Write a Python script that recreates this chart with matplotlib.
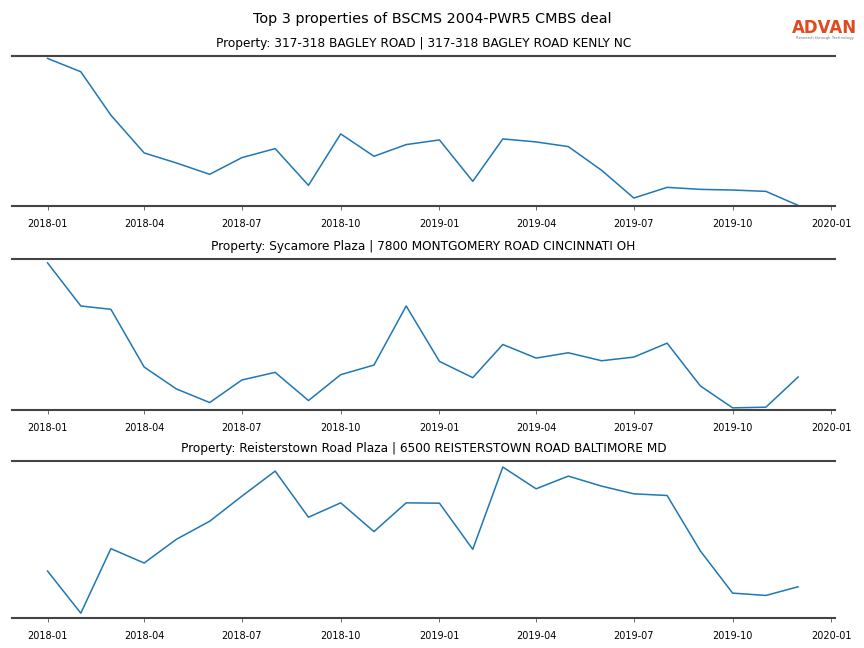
import numpy as np
import pandas as pd
import matplotlib
matplotlib.use('Agg')
import matplotlib.pyplot as plt
import matplotlib.dates as mdates

months = pd.date_range('2018-01-01', '2019-12-01', freq='MS')

titles = [
    'Property: 317-318 BAGLEY ROAD | 317-318 BAGLEY ROAD KENLY NC',
    'Property: Sycamore Plaza | 7800 MONTGOMERY ROAD CINCINNATI OH',
    'Property: Reisterstown Road Plaza | 6500 REISTERSTOWN ROAD BALTIMORE MD',
]

# monthly foot traffic (relative units)
bagley = [442, 402, 272, 159, 129, 95, 145, 172, 62, 216, 149, 184,
          198, 74, 201, 192, 178, 107, 24, 56, 50, 48, 44, 2]
sycamore = [444, 314, 304, 130, 64, 23, 91, 114, 29, 107, 136, 314,
            147, 98, 198, 157, 173, 149, 160, 202, 73, 7, 9, 100]
reisterstown = [141, 15, 208, 165, 236, 290, 365, 440, 302, 345, 259, 345,
                344, 206, 452, 387, 425, 395, 372, 367, 201, 75, 68, 94]
series = [bagley, sycamore, reisterstown]
ylims = [(0, 450), (0, 455), (0, 471)]

fig = plt.figure(figsize=(8.64, 6.48), dpi=100)
fig.suptitle('Top 3 properties of BSCMS 2004-PWR5 CMBS deal', y=0.982, fontsize=10.4)

positions = [
    [0.014, 0.682, 0.952, 0.232],
    [0.014, 0.367, 0.952, 0.233],
    [0.014, 0.046, 0.952, 0.243],
]

for pos, title, vals, yl in zip(positions, titles, series, ylims):
    ax = fig.add_axes(pos)
    ax.plot(months, vals, color='tab:blue', linewidth=1.1)
    ax.set_ylim(*yl)
    ax.set_xlim(pd.Timestamp('2017-11-29'), pd.Timestamp('2020-01-04'))
    ax.set_title(title, fontsize=8.75, pad=6.5)
    ax.xaxis.set_major_locator(mdates.MonthLocator(bymonth=[1, 4, 7, 10]))
    ax.xaxis.set_major_formatter(mdates.DateFormatter('%Y-%m'))
    ax.tick_params(axis='x', labelsize=7, length=3, width=0.6, color='#555555', pad=6.5)
    ax.set_yticks([])
    for side in ['left', 'right']:
        ax.spines[side].set_visible(False)
    for side in ['top', 'bottom']:
        ax.spines[side].set_color('#444444')
        ax.spines[side].set_linewidth(1.5)

# logo
fig.text(0.9545, 0.957, 'ADVAN', color='#E04A1F', fontsize=12,
         fontweight='bold', ha='center', va='center', family='DejaVu Sans')
fig.text(0.9545, 0.941, 'Research through Technology', color='#777777',
         fontsize=2.8, ha='center', va='center')

fig.savefig('out.png', dpi=100)
